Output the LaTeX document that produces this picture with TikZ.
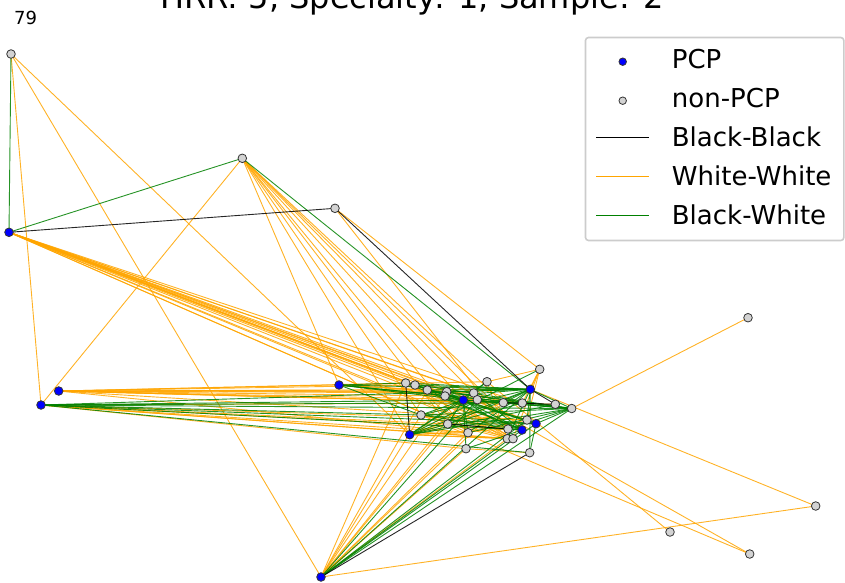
\documentclass[tikz,border=0pt]{standalone}
\usepackage{fontspec}
\setmainfont{DejaVu Sans}
\usetikzlibrary{backgrounds}
\definecolor{edgeorange}{HTML}{FFA500}
\definecolor{edgegreen}{HTML}{008000}
\definecolor{pcpblue}{HTML}{0000FF}
\definecolor{npgray}{HTML}{D3D3D3}
\definecolor{rimgray}{HTML}{333333}
\tikzset{
  pcp/.style={circle,fill=pcpblue,draw=rimgray,line width=0.8pt,minimum size=8.6pt,inner sep=0pt},
  npcp/.style={circle,fill=npgray,draw=rimgray,line width=0.8pt,minimum size=8.6pt,inner sep=0pt},
  bb/.style={draw=black,line width=0.9pt,opacity=0.85},
  ww/.style={draw=edgeorange,line width=0.9pt,opacity=0.85},
  bw/.style={draw=edgegreen,line width=0.9pt,opacity=0.85},
  legtext/.style={anchor=base west,inner sep=0pt,font=\fontsize{26}{31}\selectfont},
}
\begin{document}
\begin{tikzpicture}[x=1pt,y=-1pt]
\useasboundingbox (0,0) rectangle (845,582);
% title (cut at top, as in the reference) and label
\node[anchor=base,inner sep=0pt,font=\fontsize{32}{38}\selectfont] (title) at (412,8) {HRR: 5, Specialty: 1, Sample: 2};
\node[anchor=base west,inner sep=0pt,font=\fontsize{18}{21}\selectfont] (lbl) at (14,24.5) {79};
% outer nodes
\node[npcp] (a) at (11,54) {};
\node[npcp] (b) at (242.3,158.3) {};
\node[npcp] (c) at (335,208.3) {};
\node[pcp] (d) at (9,232.3) {};
\node[npcp] (e) at (748,317.7) {};
\node[pcp] (f) at (58.7,391) {};
\node[pcp] (g1) at (41,405) {};
\node[pcp] (h) at (339,385) {};
\node[npcp] (i) at (815.7,506) {};
\node[npcp] (j) at (670,532) {};
\node[npcp] (k) at (749.7,554) {};
\node[pcp] (l) at (321,577) {};
\node[pcp] (m) at (409.7,434.7) {};
% cluster nodes
\node[npcp] (c1) at (405.7,383) {};
\node[npcp] (c2) at (415,385) {};
\node[npcp] (c3) at (427.3,390) {};
\node[npcp] (c4) at (446.7,391.7) {};
\node[npcp] (c5) at (445,396) {};
\node[pcp] (p1) at (463.3,400) {};
\node[npcp] (c6) at (473.7,393) {};
\node[npcp] (c7) at (477.3,399.7) {};
\node[npcp] (c8) at (487,381.7) {};
\node[npcp] (c9) at (421,415) {};
\node[npcp] (c10) at (447.7,424) {};
\node[npcp] (c11) at (468,432.7) {};
\node[npcp] (c12) at (466,448.7) {};
\node[npcp] (c13) at (539.7,369.3) {};
\node[pcp] (p2) at (530.3,389.3) {};
\node[npcp] (c14) at (503.3,402.7) {};
\node[npcp] (c15) at (522.3,403) {};
\node[npcp] (c16) at (555.3,404.3) {};
\node[npcp] (c17) at (571.7,408.5) {};
\node[npcp] (c18) at (527,420) {};
\node[pcp] (p3) at (536,423.7) {};
\node[pcp] (p4) at (522,430) {};
\node[npcp] (c19) at (508,429) {};
\node[npcp] (c20) at (507.3,438.7) {};
\node[npcp] (c21) at (513,438.7) {};
\node[npcp] (c22) at (529.7,452.7) {};
\begin{pgfonlayer}{background}
% White-White edges
\foreach \s/\t in {a/g1,a/l,a/m,b/g1,b/h,b/m,b/c9,b/c10,b/p1,b/c6,b/c14,b/p4,b/c11,c/c19,c/c13,
  d/c1,d/c2,d/c3,d/c4,d/c5,d/p1,d/c6,d/c7,d/c14,d/c15,d/c18,d/p4,d/c19,d/c20,d/c21,d/c11,d/c10,
  f/c1,f/c2,f/c3,f/c4,f/c5,f/c6,f/c7,f/c14,f/c15,f/c16,f/c18,f/c11,f/p2,f/c8,
  g1/c10,g1/c11,g1/c19,g1/c20,g1/c21,g1/c12,g1/c18,g1/c15,
  h/c3,h/c4,h/c14,h/c6,
  m/c10,m/c11,m/c19,m/c20,m/c21,m/c14,
  l/c1,l/c3,l/c9,l/c10,l/p1,l/c11,l/c12,l/c14,l/c20,l/c5,l/i,
  e/c17,k/c7,k/c9,j/c8,i/p2,
  c13/p2,c13/c8,c13/c18,c13/c15,c13/c21,
  c1/c20,c2/c18,c3/c21,c4/c15,c5/c21,c9/c19,c10/c20,c11/c18,c6/c19,c12/c22,c9/c21,c4/c20,c8/c20,c2/c11}
  \draw[ww] (\s.center) -- (\t.center);
% Black-White edges
\foreach \s/\t in {a/d,b/d,b/p2,
  g1/p1,g1/p2,g1/p3,g1/p4,g1/c22,g1/c9,g1/c17,g1/c14,
  h/c1,h/p1,h/c17,h/p2,h/c15,h/c9,
  m/p1,m/p2,m/c17,m/c8,m/c13,m/c16,m/c15,
  l/p2,l/c18,l/p4,l/p3,l/c7,l/c17,
  p1/c1,p1/c2,p1/c3,p1/c8,p1/c10,p1/c11,p1/c14,p1/c15,p1/c17,p1/c18,p1/c19,p1/c12,p1/c9,
  p2/c1,p2/c2,p2/c3,p2/c4,p2/c9,p2/c10,p2/c14,p2/c18,p2/c22,p2/c20,p2/c17,p2/c11,p2/c5,
  c17/c1,c17/c3,c17/c9,c17/c14,c17/c19,c17/c11,c17/c4,
  p4/c9,p4/c10,p4/c3,p4/c4,p4/c1,p4/c6,p4/c12,
  p3/c9,p3/c10,p3/c5,p3/c2,p3/c17,p3/c22}
  \draw[bw] (\s.center) -- (\t.center);
% Black-Black edges
\foreach \s/\t in {c/d,c/p2,p2/c16,c1/m,l/c22,c10/c19,c14/c16}
  \draw[bb] (\s.center) -- (\t.center);
\end{pgfonlayer}
% legend
\draw[draw=black!20,line width=1.6pt,fill=white,fill opacity=0.85,rounded corners=3pt] (585.5,37.5) rectangle (843.8,240.5);
\node[pcp,minimum size=7.5pt] (lg1) at (622.7,61.7) {};
\node[npcp,minimum size=7.5pt] (lg2) at (622.7,100.7) {};
\coordinate (lb1) at (596,137.3); \coordinate (lb2) at (649.3,137.3);
\coordinate (lw1) at (596,176.3); \coordinate (lw2) at (649.3,176.3);
\coordinate (lg3) at (596,215.3); \coordinate (lg4) at (649.3,215.3);
\draw[bb,opacity=1] (lb1) -- (lb2);
\draw[ww,opacity=1] (lw1) -- (lw2);
\draw[bw,opacity=1] (lg3) -- (lg4);
\node[legtext] (t1) at (671.7,68.8) {PCP};
\node[legtext] (t2) at (671.7,107.8) {non-PCP};
\node[legtext] (t3) at (671.7,146.5) {Black-Black};
\node[legtext] (t4) at (671.7,185.5) {White-White};
\node[legtext] (t5) at (671.7,224.5) {Black-White};
\end{tikzpicture}
\end{document}
